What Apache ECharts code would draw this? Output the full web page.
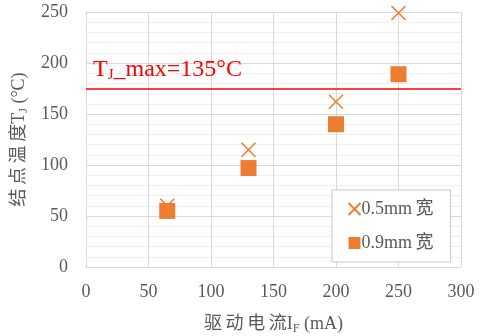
<!DOCTYPE html>
<html>
<head>
<meta charset="utf-8">
<script src="https://cdn.jsdelivr.net/npm/echarts@6/dist/echarts.min.js"></script>
<style>
  html, body { margin: 0; padding: 0; background: #fff; }
  #chart { width: 482px; height: 336px; }
</style>
</head>
<body>
<div id="chart"></div>
<script>
// Drive current (mA) and measured junction temperature (°C) per trace width
const currents = [65, 130, 200, 250];
const temp05mm = [60, 115, 162, 249];
const temp09mm = [55, 97, 140, 189];
const seriesNames = ['0.5mm宽', '0.9mm宽'];
// Level at which the T_J max reference line is drawn
const tjLineLevel = 175;

const ORANGE = '#ED7D31';
const SERIF = '"Liberation Serif", "Noto Sans CJK SC", serif';
const TEXT_GRAY = '#595959';
const THIN = '\u2009';

function pairs(xs, ys) { return xs.map((x, i) => [x, ys[i]]); }
function spaced(s) { return s.split('').join(THIN); }

const chart = echarts.init(document.getElementById('chart'), null, { renderer: 'canvas' });
chart.setOption({
  animation: false,
  backgroundColor: '#fff',
  grid: { left: 86, right: 21, top: 12, bottom: 69, containLabel: false, outerBoundsMode: 'none' },
  xAxis: {
    type: 'value', min: 0, max: 300, interval: 50,
    name: spaced('驱动电流') + 'I{sub|F} (mA)',
    nameLocation: 'middle', nameGap: 46,
    nameTextStyle: {
      fontFamily: SERIF, fontSize: 18, color: TEXT_GRAY,
      rich: { sub: { fontFamily: SERIF, fontSize: 12, color: TEXT_GRAY, padding: [10, 0, 0, 0] } }
    },
    axisLine: { show: true, lineStyle: { color: '#d9d9d9', width: 1 } },
    axisTick: { show: false },
    axisLabel: { fontFamily: SERIF, fontSize: 18, color: TEXT_GRAY, margin: 16 },
    splitLine: { show: true, lineStyle: { color: '#d9d9d9', width: 1 } }
  },
  yAxis: {
    type: 'value', min: 0, max: 250, interval: 50,
    name: spaced('结点温度') + 'T{sub|J} (°C)',
    nameLocation: 'middle', nameGap: 52,
    nameTextStyle: {
      fontFamily: SERIF, fontSize: 18, color: TEXT_GRAY,
      rich: { sub: { fontFamily: SERIF, fontSize: 12, color: TEXT_GRAY, padding: [10, 0, 0, 0] } }
    },
    axisLine: { show: true, lineStyle: { color: '#d9d9d9', width: 1 } },
    axisTick: { show: false },
    axisLabel: { fontFamily: SERIF, fontSize: 18, color: TEXT_GRAY, margin: 18 },
    splitLine: { show: true, lineStyle: { color: '#d9d9d9', width: 1 } },
    minorTick: { show: false, splitNumber: 5 },
    minorSplitLine: { show: true, lineStyle: { color: '#efefef', width: 1 } }
  },
  legend: {
    data: seriesNames,
    orient: 'vertical',
    left: 332, top: 190,
    backgroundColor: '#fff',
    borderColor: '#c8c8c8', borderWidth: 1,
    padding: [10, 17, 10, 14],
    itemGap: 16,
    itemWidth: 12, itemHeight: 12,
    formatter: name => name.replace('宽', THIN + '宽'),
    textStyle: { fontFamily: SERIF, fontSize: 18, color: TEXT_GRAY, padding: [0, 0, 0, -4] }
  },
  series: [
    {
      name: seriesNames[0],
      type: 'scatter',
      data: pairs(currents, temp05mm),
      symbol: 'path://M0,0L10,10M10,0L0,10',
      symbolSize: 14,
      itemStyle: { color: 'none', borderColor: ORANGE, borderWidth: 1.5, opacity: 1 },
      emphasis: { disabled: true },
      z: 3
    },
    {
      name: seriesNames[1],
      type: 'scatter',
      data: pairs(currents, temp09mm),
      symbol: 'rect',
      symbolSize: 16,
      itemStyle: { color: ORANGE, opacity: 1 },
      emphasis: { disabled: true },
      z: 4
    },
    {
      name: 'TJ_max',
      type: 'scatter',
      data: [],
      markLine: {
        silent: true,
        symbol: 'none',
        data: [{ yAxis: tjLineLevel }],
        lineStyle: { color: '#FF0000', width: 1.5, type: 'solid' },
        label: {
          show: true,
          position: 'insideStartTop',
          distance: [7, 6],
          formatter: '{a|T}{b|J}{a|_max=135°C}',
          rich: {
            a: { fontFamily: SERIF, fontSize: 24, color: '#FF0000' },
            b: { fontFamily: SERIF, fontSize: 15, color: '#FF0000', padding: [10, 0, 0, 0] }
          }
        }
      }
    }
  ]
});
</script>
</body>
</html>
